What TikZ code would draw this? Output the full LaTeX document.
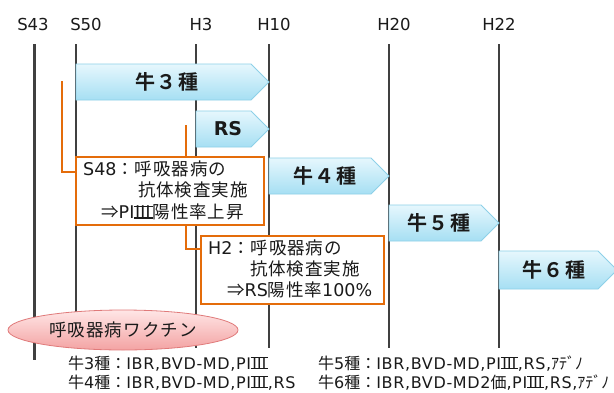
\documentclass[tikz,border=0pt]{standalone}
\usepackage{fontspec}
\setmainfont{Noto Sans CJK JP}[BoldFont={Noto Sans CJK JP Bold}, LetterSpace=5]
\newfontfamily\lat{DejaVu Sans}
\newfontfamily\latw{DejaVu Sans}[LetterSpace=4]
\newcommand\lt[1]{{\lat #1}}
\newcommand\lw[1]{{\latw #1}}
\newcommand\rmIII{\makebox[1.05em]{\sbox0{Ⅲ}\kern-0.05em\rlap{\rule{\dimexpr\wd0+0.1em\relax}{0.07em}}\rlap{\rule[\dimexpr\ht0-0.07em\relax]{\dimexpr\wd0+0.1em\relax}{0.07em}}\kern0.05em\usebox0}}
\usetikzlibrary{shapes.geometric}
\definecolor{linegray}{HTML}{404040}
\definecolor{orange1}{HTML}{E46C0A}
\definecolor{arrowedge}{HTML}{8DD0E8}
\definecolor{arrowtop}{HTML}{E6F7FD}
\definecolor{arrowbot}{HTML}{A6DFF3}
\definecolor{elltop}{HTML}{FFE6E6}
\definecolor{ellbot}{HTML}{F3A3A3}
\definecolor{elledge}{HTML}{E07A7A}
\definecolor{txt}{HTML}{1A1A1A}
\begin{document}
\begin{tikzpicture}[x=1pt,y=-1pt,
  vline/.style={draw=linegray, line width=2pt},
  yearlbl/.style={font=\lat\fontsize{16.5}{16.5}\selectfont, anchor=base, text=txt, inner sep=0},
  arr/.style={draw=arrowedge, line width=0.8pt, top color=arrowtop, bottom color=arrowbot},
  arrtext/.style={font=\bfseries\fontsize{20}{20}\selectfont\addfontfeature{LetterSpace=9}, inner sep=0, text=txt},
  obox/.style={draw=orange1, line width=2pt, fill=white, inner sep=0},
  oline/.style={draw=orange1, line width=2pt},
  boxtext/.style={font=\fontsize{17.5}{17.5}\selectfont, anchor=base west, inner sep=0, text=txt},
  legend/.style={font=\fontsize{16}{16}\selectfont\addfontfeature{LetterSpace=0}, anchor=base west, inner sep=0, text=txt},
  vacc/.style={ellipse, draw=elledge, line width=0.8pt, top color=elltop, bottom color=ellbot,
    minimum width=230pt, minimum height=40pt, inner sep=0, font=\fontsize{17.5}{17.5}\selectfont\addfontfeature{LetterSpace=6}, text=txt}]
\useasboundingbox (0,0) rectangle (614,392);
\fill[white] (0,0) rectangle (614,392);

% year labels
\node[yearlbl] (yS43) at (33,30) {S43};
\node[yearlbl] (yS50) at (86,30) {S50};
\node[yearlbl] (yH3) at (201,30) {H3};
\node[yearlbl] (yH10) at (274,30) {H10};
\node[yearlbl] (yH20) at (394,30) {H20};
\node[yearlbl] (yH22) at (499,30) {H22};

% vertical time lines
\draw[vline, line width=3pt] (34,44) -- (34,360);
\draw[vline] (76,44) -- (76,348);
\draw[vline] (196,44) -- (196,348);
\draw[vline] (269,44) -- (269,348);
\draw[vline] (389,44) -- (389,348);
\draw[vline] (499,44) -- (499,348);

% arrows
\draw[arr] (76,64) -- (251,64) -- (269,82) -- (251,100) -- (76,100) -- cycle;
\node[arrtext] (a3) at (167,82) {牛３種};
\draw[arr] (196,111) -- (251,111) -- (269,129) -- (251,147) -- (196,147) -- cycle;
\node[arrtext, font=\lat\bfseries\fontsize{19}{19}\selectfont] (ars) at (228,129) {RS};
\draw[arr] (269,158) -- (371,158) -- (389,176) -- (371,194) -- (269,194) -- cycle;
\node[arrtext] (a4) at (325,176) {牛４種};
\draw[arr] (389,205) -- (481,205) -- (499,223) -- (481,241) -- (389,241) -- cycle;
\node[arrtext] (a5) at (439,223) {牛５種};
\draw[arr] (499,251) -- (598,251) -- (617,270) -- (598,289) -- (499,289) -- cycle;
\node[arrtext] (a6) at (554,270) {牛６種};

% orange boxes and connectors
\node[obox, minimum width=183pt, minimum height=68pt] (box2) at (292.5,270) {};
\coordinate (k1) at (62,81);
\coordinate (k2) at (186,125);
\draw[oline] (k2) |- ([yshift=-14pt]box2.north west);
\node[obox, minimum width=188pt, minimum height=68pt] (box1) at (170,191) {};
\draw[oline] (k1) |- ([yshift=-16pt]box1.north west);

\node[boxtext] (b1l1) at (83,175) {\lt{S48}：呼吸器病の};
\node[boxtext] (b1l2) at (138,196.5) {抗体検査実施};
\node[boxtext] (b1l3) at (101,218.5) {⇒\lt{PI}\rmIII 陽性率上昇};

\node[boxtext] (b2l1) at (208,254) {\lt{H2}：呼吸器病の};
\node[boxtext] (b2l2) at (250,275) {抗体検査実施};
\node[boxtext] (b2l3) at (227,296.5) {⇒\lt{RS}陽性率\lt{100\%}};

% vaccine ellipse
\node[vacc] (vac) at (123,330) {呼吸器病ワクチン};

% legend
\node[legend] (l3) at (68,369) {牛\lw{3}種：\lw{IBR,BVD-MD,PI}\rmIII};
\node[legend] (l4) at (68,388) {牛\lw{4}種：\lw{IBR,BVD-MD,PI}\rmIII\lw{,RS}};
\node[legend] (l5) at (318,369) {牛\lw{5}種：\lw{IBR,BVD-MD,PI}\rmIII\lw{,RS,}ｱﾃﾞﾉ};
\node[legend] (l6) at (318,388) {牛\lw{6}種：\lw{IBR,BVD-MD2}価\lw{,PI}\rmIII\lw{,RS,}ｱﾃﾞﾉ};
\end{tikzpicture}
\end{document}
